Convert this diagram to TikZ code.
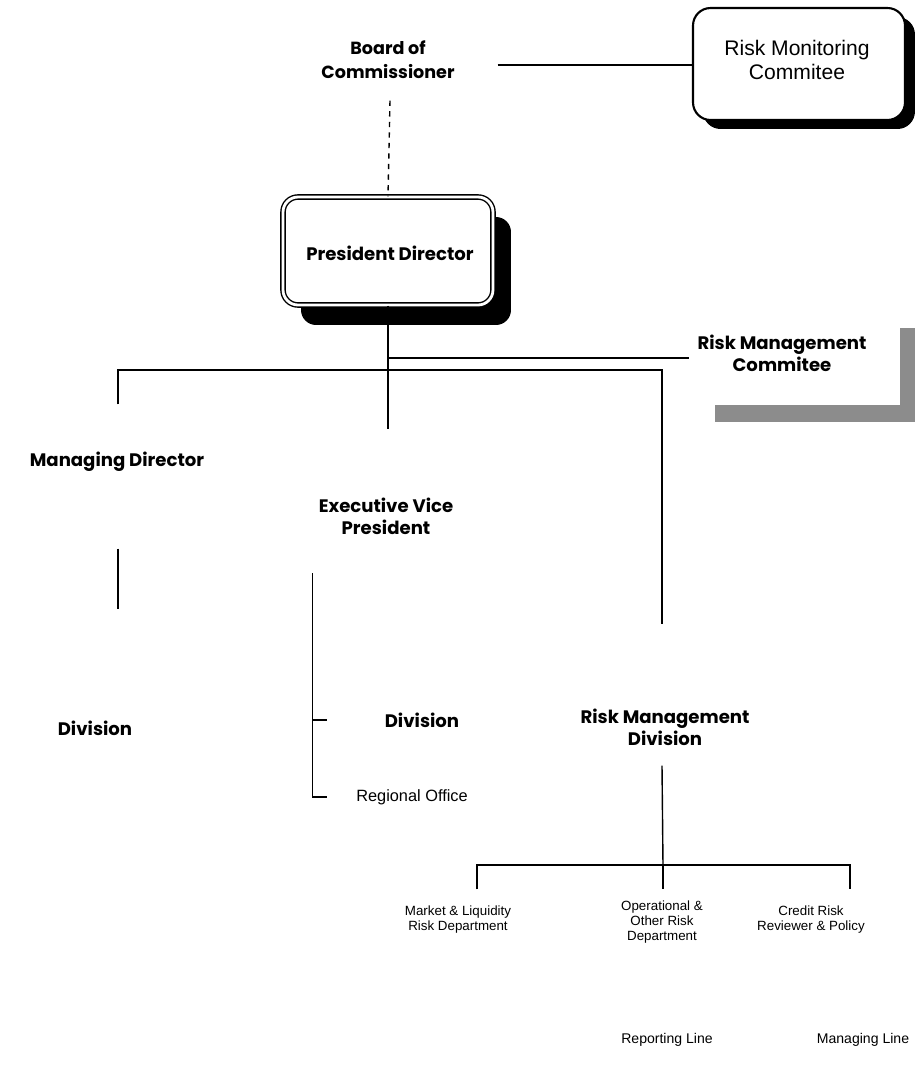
\documentclass[tikz,border=0pt]{standalone}
\usepackage{fontspec}
\setmainfont{Poppins}
\newfontfamily\thinfont{Liberation Sans}
\usetikzlibrary{shadows}
\tikzset{
  ghost/.style={inner sep=0pt},
  headtxt/.style={font=\fontsize{10.3}{12.5}\selectfont\bfseries, align=center, inner sep=0pt},
  thintxt/.style={font=\thinfont\fontsize{12}{14}\selectfont, align=center, inner sep=0pt},
  depttxt/.style={font=\thinfont\fontsize{7.6}{8.5}\selectfont, align=center, inner sep=0pt},
  roundbox/.style={draw, fill=white, rounded corners=0.35cm, line width=1.2pt,
    drop shadow={shadow xshift=0.2cm, shadow yshift=-0.18cm, fill=black, opacity=1}}
}
\begin{document}
\begin{tikzpicture}[x=0.02cm, y=-0.02cm, line width=0.8pt]
            \useasboundingbox (0,0) rectangle (915,1072);

            % top row
            \node[ghost, minimum width=4.28cm, minimum height=1.4cm] (boardbox) at (390,65) {};
            \node[headtxt, font=\fontsize{10}{13.5}\selectfont\bfseries] (board) at (388,60) {Board of\\Commissioner};
            \node[roundbox, minimum width=4.24cm, minimum height=2.24cm] (rmc) at (799,64) {};
            \node[thintxt] (rmctxt) at (797,60) {Risk Monitoring\\Commitee};

            % president director
            \node[draw, fill=white, rounded corners=0.3cm, double, double distance=1.6pt,
                  minimum width=4.2cm, minimum height=2.16cm,
                  drop shadow={shadow xshift=0.36cm, shadow yshift=-0.4cm, fill=black, opacity=1}] (pd) at (388,251) {};
            \node[headtxt] (pdtxt) at (390,253) {President Director};

            % risk management commitee, only the shadow shows
            \node[ghost, fill=white, minimum width=4cm, minimum height=1.9cm,
                  drop shadow={shadow xshift=0.3cm, shadow yshift=-0.34cm, fill=black!45, opacity=1}] (rmgc) at (800,358) {};
            \node[headtxt] (rmgctxt) at (782,353) {Risk Management\\Commitee};

            % second row
            \coordinate (hub) at (388,370);
            \node[ghost, minimum width=4.7cm, minimum height=2.86cm] (mdbox) at (118,476.5) {};
            \node[headtxt] (md) at (117,462) {Managing Director};
            \node[ghost, minimum width=4cm, minimum height=2.86cm] (evpbox) at (388,501) {};
            \node[headtxt] (evp) at (386,516) {Executive Vice\\President};
            \node[ghost, minimum width=4cm, minimum height=2.8cm] (rmdbox) at (662,695) {};
            \node[headtxt] (rmd) at (665,727) {Risk Management\\Division};

            % third row
            \node[ghost, minimum width=3.6cm, minimum height=3.2cm] (divlbox) at (118,690) {};
            \node[headtxt] (divl) at (95,728) {Division};
            \node[headtxt, minimum width=3.76cm] (divm) at (422,720) {Division};
            \node[thintxt, font=\thinfont\fontsize{9.3}{11}\selectfont, minimum width=3.36cm] (reg) at (412,797) {Regional Office};

            % departments
            \coordinate (dhub) at (663,865);
            \node[ghost, minimum width=3cm, minimum height=1.4cm] (mlrdbox) at (477,925) {};
            \node[depttxt] (mlrd) at (458,920) {Market \& Liquidity\\Risk Department};
            \node[ghost, minimum width=3cm, minimum height=1.4cm] (oordbox) at (663,925) {};
            \node[depttxt] (oord) at (662,922) {Operational \&\\Other Risk\\Department};
            \node[ghost, minimum width=3cm, minimum height=1.4cm] (crrpbox) at (850,925) {};
            \node[depttxt] (crrp) at (811,920) {Credit Risk\\Reviewer \& Policy};

            % legend
            \node[depttxt, font=\thinfont\fontsize{8}{10}\selectfont] (legrep) at (667,1040) {Reporting Line};
            \node[depttxt, font=\thinfont\fontsize{8}{10}\selectfont] (legman) at (863,1040) {Managing Line};

            % lines
            \draw (boardbox.east) -- (boardbox.east -| rmc.west);
            \draw[dashed] (boardbox.south) -- (pd.north);
            \draw (pd.south) -- (hub);
            \draw (pd.south |- rmgc.west) -- ([xshift=-0.2cm]rmgc.west);
            \draw (mdbox.north) |- (hub) -| (rmdbox.north);
            \draw (hub) -- (evpbox.north);
            \draw (mdbox.south) -- (divlbox.north);
            \coordinate (evpleg) at ([xshift=0.5cm]evpbox.south west);
            \draw (evpleg) |- (reg.west);
            \draw (evpleg |- divm.west) -- (divm.west);
            \draw (rmdbox.south) -- (dhub);
            \draw (mlrdbox.north) |- (dhub) -| (crrpbox.north);
            \draw (dhub) -- (oordbox.north);
\end{tikzpicture}
\end{document}
